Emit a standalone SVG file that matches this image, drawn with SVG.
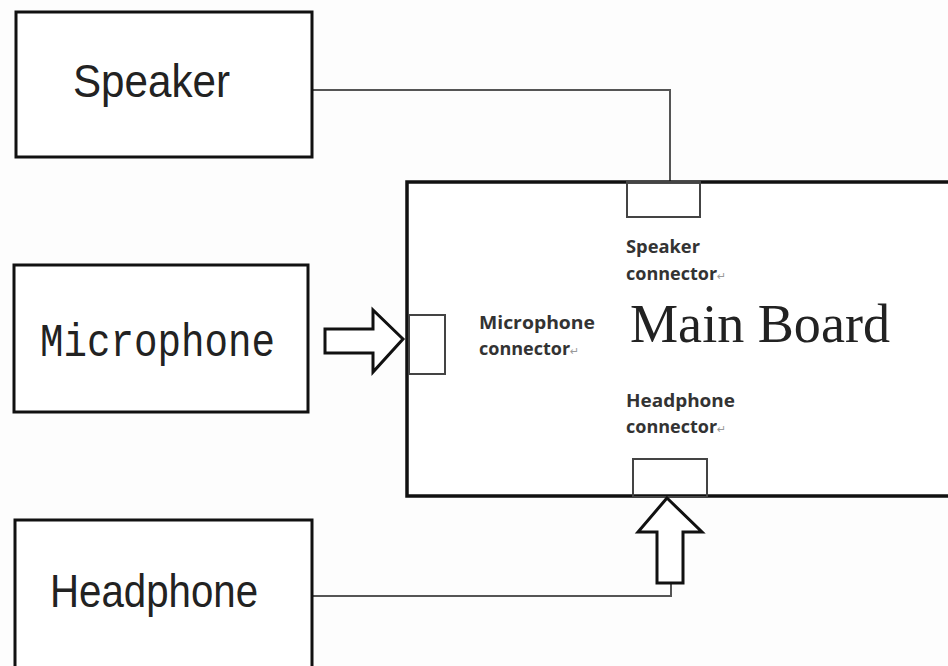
<svg xmlns="http://www.w3.org/2000/svg" width="948" height="666" viewBox="0 0 948 666">
<style>
.box{fill:#fff;stroke:#111;stroke-width:3}
.board{fill:#fff;stroke:#111;stroke-width:3.5}
.conn{fill:none;stroke:#444;stroke-width:2}
.wire{fill:none;stroke:#555;stroke-width:2}
.arrow{fill:#fff;stroke:#111;stroke-width:3;stroke-linejoin:miter}
.big{font-family:"Liberation Sans",Arial,sans-serif;font-size:46px;fill:#222}
.mono{font-family:"Liberation Mono","DejaVu Sans Mono",monospace;font-size:46px;fill:#222}
.serif{font-family:"Liberation Serif","Times New Roman",serif;font-size:55px;fill:#222}
.lbl{font-family:"Open Sans","Liberation Sans",sans-serif;font-weight:bold;font-size:18px;fill:#333}
.ret{font-family:"DejaVu Sans",sans-serif;font-size:11px;fill:#999;font-weight:normal}
</style>
<rect width="948" height="666" fill="#fdfdfd"/>
<g id="connectors">
<polyline class="wire" points="313,90 670,90 670,183"/>
<polyline class="wire" points="313,596 671,596 671,583"/>
</g>
<g id="speaker">
<rect class="box" x="16" y="12" width="296" height="145"/>
<text class="big" x="73" y="97" textLength="157" lengthAdjust="spacingAndGlyphs">Speaker</text>
</g>
<g id="microphone">
<rect class="box" x="14" y="265" width="294" height="147"/>
<text class="mono" x="40" y="356" textLength="235" lengthAdjust="spacingAndGlyphs">Microphone</text>
</g>
<g id="headphone">
<rect class="box" x="15" y="520" width="297" height="160"/>
<text class="big" x="50" y="607" textLength="208" lengthAdjust="spacingAndGlyphs">Headphone</text>
</g>
<g id="main-board">
<rect class="board" x="407" y="182" width="560" height="314"/>
<text class="serif" x="630" y="342" textLength="260" lengthAdjust="spacingAndGlyphs">Main Board</text>
</g>
<g id="speaker-connector">
<rect class="conn" x="627" y="182" width="73" height="35"/>
<text class="lbl" x="626" y="253" textLength="74" lengthAdjust="spacingAndGlyphs">Speaker</text>
<text class="lbl" x="626" y="280">connector<tspan class="ret">↵</tspan></text>
</g>
<g id="microphone-connector">
<rect class="conn" x="409" y="315" width="36" height="59"/>
<text class="lbl" x="479" y="329" textLength="116" lengthAdjust="spacingAndGlyphs">Microphone</text>
<text class="lbl" x="479" y="355">connector<tspan class="ret">↵</tspan></text>
</g>
<g id="headphone-connector">
<rect class="conn" x="633" y="459" width="74" height="38"/>
<text class="lbl" x="626" y="407" textLength="109" lengthAdjust="spacingAndGlyphs">Headphone</text>
<text class="lbl" x="626" y="433">connector<tspan class="ret">↵</tspan></text>
</g>
<g id="mic-arrow">
<polygon class="arrow" points="325,329 373,329 373,310 403,339 373,372 373,353 325,353"/>
</g>
<g id="headphone-arrow">
<polygon class="arrow" points="667,498 702,532 683,532 683,583 657,583 657,532 638,532"/>
</g>
</svg>
